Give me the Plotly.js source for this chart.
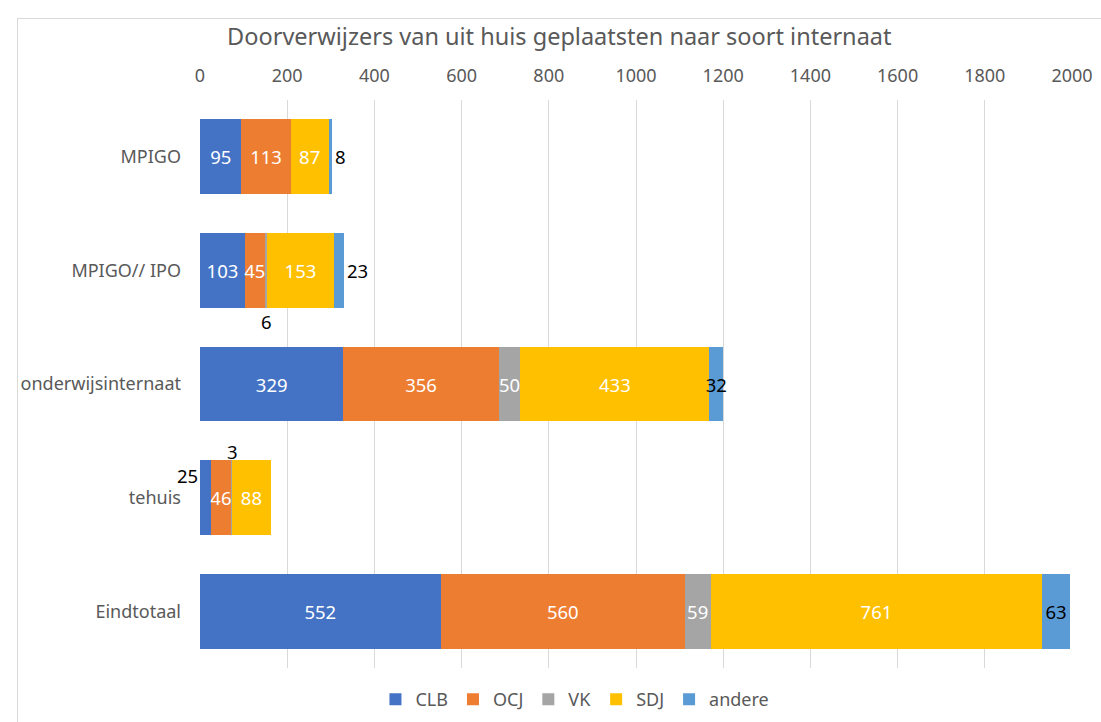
<!DOCTYPE html>
<html><head><meta charset="utf-8">
<script src="https://cdn.plot.ly/plotly-3.0.1.min.js"></script>
<style>
body{margin:0;padding:0;background:#fff;}
#frame{position:absolute;left:17px;top:18px;width:1100px;height:720px;border:1px solid #d9d9d9;}
#chart{position:absolute;left:0;top:0;width:1101px;height:722px;}
</style></head>
<body>
<div id="frame"></div>
<div id="chart"></div>
<script>
const categories = ['MPIGO', 'MPIGO// IPO', 'onderwijsinternaat', 'tehuis', 'Eindtotaal'];
const seriesNames = ['CLB', 'OCJ', 'VK', 'SDJ', 'andere'];
const CLB    = [95, 103, 329, 25, 552];
const OCJ    = [113, 45, 356, 46, 560];
const VK     = [null, 6, 50, 3, 59];
const SDJ    = [87, 153, 433, 88, 761];
const andere = [8, 23, 32, null, 63];
const colors = ['#4472C4', '#ED7D31', '#A5A5A5', '#FFC000', '#5B9BD5'];

const series = [CLB, OCJ, VK, SDJ, andere];
const font = 'Noto Sans, Open Sans, sans-serif';
const labelSize = 18.5;

// labels drawn as annotations (outside the segments)
const specialLabels = {
  '0-3': {dx: 'left', yshift: 22},   // CLB 25 tehuis
  '2-1': {dx: 'mid', yshift: -51},   // VK 6 MPIGO//IPO
  '2-3': {dx: 'mid', yshift: 46}     // VK 3 tehuis
};

const traces = series.map((vals, si) => {
  const isLast = si === series.length - 1;
  const text = vals.map((v, ci) => {
    if (v === null) return '';
    if (specialLabels[si + '-' + ci]) return '';
    return String(v);
  });
  const textpos = vals.map((v, ci) => {
    if (isLast && v !== null && v < 25) return 'outside';
    return 'inside';
  });
  return {
    type: 'bar',
    orientation: 'h',
    name: seriesNames[si],
    y: categories,
    x: vals,
    marker: {color: colors[si], line: {width: 0}},
    text: text,
    texttemplate: '%{text}',
    textposition: textpos,
    insidetextanchor: 'middle',
    textangle: 0,
    constraintext: 'none',
    cliponaxis: false,
    textfont: {family: font, size: labelSize, color: isLast ? '#000000' : '#ffffff'},
    outsidetextfont: {family: font, size: labelSize, color: '#000000'},
    hoverinfo: 'x+name'
  };
});

const annotations = [];
Object.keys(specialLabels).forEach(key => {
  const [si, ci] = key.split('-').map(Number);
  let start = 0;
  for (let k = 0; k < si; k++) start += (series[k][ci] || 0);
  const v = series[si][ci];
  const spec = specialLabels[key];
  const xpos = spec.dx === 'left' ? start : start + v / 2;
  annotations.push({
    x: xpos, y: categories[ci], xref: 'x', yref: 'y',
    text: String(v), showarrow: false,
    xanchor: spec.dx === 'left' ? 'right' : 'center',
    xshift: spec.dx === 'left' ? 0 : 1,
    yshift: spec.yshift,
    font: {family: font, size: labelSize, color: '#000000'}
  });
});

const layout = {
  width: 1101, height: 722,
  margin: {l: 200, r: 29, t: 100, b: 54, autoexpand: false},
  paper_bgcolor: 'rgba(0,0,0,0)',
  plot_bgcolor: 'rgba(0,0,0,0)',
  barmode: 'stack',
  bargap: 0.34,
  title: {
    text: 'Doorverwijzers van uit huis geplaatsten naar soort internaat',
    x: 0.508, xanchor: 'center', y: 0.949, yanchor: 'middle',
    font: {family: font, size: 23.5, color: '#595959'}
  },
  xaxis: {
    side: 'top', range: [0, 2000], dtick: 200, tick0: 0,
    showgrid: true, gridcolor: '#d9d9d9', gridwidth: 1,
    zeroline: false, showline: false, ticks: '',
    ticklabelstandoff: 13,
    tickfont: {family: font, size: 18, color: '#595959'},
    fixedrange: true
  },
  yaxis: {
    autorange: 'reversed', type: 'category',
    showgrid: false, zeroline: false, showline: false, ticks: '',
    ticklabelstandoff: 18,
    tickfont: {family: font, size: 18, color: '#595959'},
    fixedrange: true
  },
  showlegend: true,
  legend: {
    orientation: 'h', x: 0.43, xanchor: 'center',
    yref: 'container', y: 0.031, yanchor: 'middle',
    font: {family: font, size: 18, color: '#595959'},
    traceorder: 'normal', itemwidth: 30
  },
  annotations: annotations
};

Plotly.newPlot('chart', traces, layout, {displayModeBar: false, staticPlot: true});
</script>
</body></html>
